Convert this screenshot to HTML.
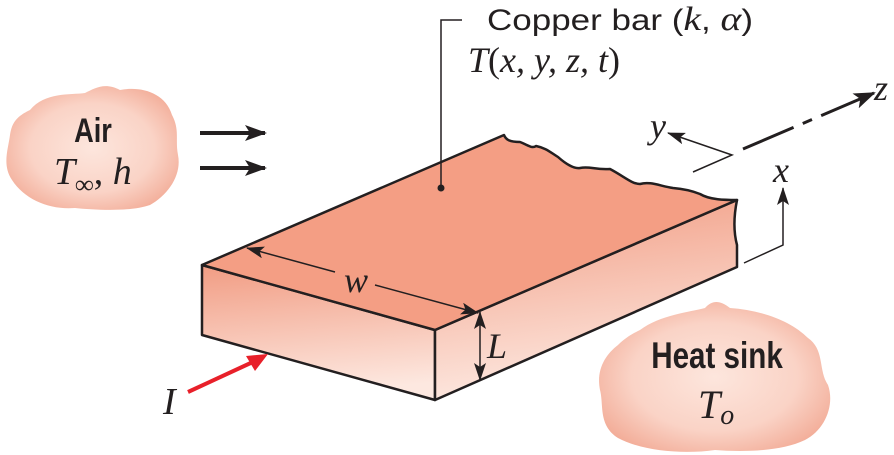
<!DOCTYPE html>
<html><head><meta charset="utf-8"><style>
html,body{margin:0;padding:0;background:#fff}
svg{display:block}
.s{font-family:"Liberation Sans",sans-serif}
.r{font-family:"Liberation Serif",serif;font-style:italic}
</style></head><body>
<svg width="894" height="455" viewBox="0 0 894 455" xmlns="http://www.w3.org/2000/svg">
<defs>
<linearGradient id="front" x1="0" y1="0" x2="0.15" y2="1">
<stop offset="0" stop-color="#f19c83"/><stop offset="1" stop-color="#fde8e0"/></linearGradient>
<linearGradient id="side" x1="0" y1="0" x2="0.2" y2="1">
<stop offset="0" stop-color="#f19c83"/><stop offset="1" stop-color="#fde8e0"/></linearGradient>
<radialGradient id="cloud" cx="0.5" cy="0.5" r="0.6">
<stop offset="0" stop-color="#fde6dd"/><stop offset="0.6" stop-color="#fad3c6"/><stop offset="1" stop-color="#f2aa95"/></radialGradient>
<marker id="ah" markerWidth="22" markerHeight="16" refX="20" refY="8" orient="auto" markerUnits="userSpaceOnUse"><path d="M0,0 L22,8 L0,16 L5,8z" fill="#231f20"/></marker>
<marker id="as" markerWidth="18" markerHeight="12" refX="17" refY="6" orient="auto" markerUnits="userSpaceOnUse"><path d="M0,0 L18,6 L0,12 L4,6z" fill="#231f20"/></marker>
</defs>

<g>
<path d="M30,110 C45,92 70,95 85,93 C95,88 105,82 120,90 C140,86 165,92 172,115 C180,130 175,140 178,155 C182,175 168,195 150,205 C130,212 95,210 75,208 C50,210 25,200 12,180 C2,165 8,150 10,135 C12,120 20,115 30,110Z" fill="url(#cloud)"/>
<text x="93" y="142" class="s" font-weight="bold" font-size="34" text-anchor="middle" fill="#231f20" transform="translate(93 0) scale(0.8 1) translate(-93 0)">Air</text>
<text x="54" y="184" class="r" font-size="38" fill="#231f20">T<tspan font-size="26" dy="9">∞</tspan><tspan dy="-9" font-style="normal">,</tspan> h</text>
</g>
<g stroke="#231f20" stroke-width="4">
<line x1="200" y1="133" x2="265" y2="133" marker-end="url(#ah)"/>
<line x1="200" y1="168" x2="265" y2="168" marker-end="url(#ah)"/>
</g>

<g>
<path d="M640,330 C660,315 690,312 705,308 C712,300 720,300 730,308 C760,310 790,320 808,338 C825,350 818,370 828,385 C835,405 825,430 805,440 C780,452 740,452 715,450 C680,455 640,450 618,438 C598,425 604,405 600,390 C596,370 605,355 618,345 C625,338 632,334 640,330Z" fill="url(#cloud)"/>
<text x="717" y="368" class="s" font-weight="bold" font-size="37" text-anchor="middle" fill="#231f20" transform="translate(717 0) scale(0.8 1) translate(-717 0)">Heat sink</text>
<text x="698" y="418" class="r" font-size="40" fill="#231f20">T<tspan font-size="28" dy="6">o</tspan></text>
</g>

<g stroke="#231f20" stroke-width="2.5" stroke-linejoin="round">
<path d="M202,265 L435,330 L435,400 L202,335Z" fill="url(#front)"/>
<path d="M435,330 L737,200 C734,215 733,230 737,245 L737,267 L435,400Z" fill="url(#side)"/>
<path d="M202,265 L504,135 C506,140 510,142 520,142 C528,145 532,149 536,146 C546,148 550,152 558,157 C567,165 575,169 580,168 C590,166 595,170 610,169 C625,177 632,184 640,184 C650,181 660,186 673,188 C685,189 695,192 700,194 C710,200 725,200 737,200 L435,330Z" fill="#f49e84"/>
</g>

<circle cx="441" cy="188" r="3.5" fill="#231f20"/>
<polyline points="441,188 441,20 462,20" fill="none" stroke="#231f20" stroke-width="1.5"/>
<text x="487" y="30" class="s" font-size="30" fill="#231f20" textLength="266" lengthAdjust="spacingAndGlyphs">Copper bar (<tspan font-family="Liberation Serif" font-style="italic" font-size="34">k</tspan>, <tspan font-family="Liberation Serif" font-style="italic" font-size="34">α</tspan>)</text>
<text x="468" y="72" class="r" font-size="36" fill="#231f20">T<tspan font-style="normal">(</tspan>x, y, z, t<tspan font-style="normal">)</tspan></text>

<g stroke="#231f20" stroke-width="1.5">
<line x1="335" y1="272" x2="247" y2="248" marker-end="url(#as)"/>
<line x1="375" y1="285" x2="478" y2="313" marker-end="url(#as)"/>
</g>
<text x="344" y="292" class="r" font-size="36" fill="#231f20">w</text>
<g stroke="#231f20" stroke-width="1.5">
<line x1="480" y1="345" x2="480" y2="312" marker-end="url(#as)"/>
<line x1="480" y1="345" x2="480" y2="380" marker-end="url(#as)"/>
</g>
<text x="487" y="358" class="r" font-size="36" fill="#231f20">L</text>

<line x1="188" y1="392" x2="255" y2="361" stroke="#e8202a" stroke-width="4"/>
<path d="M268,354 L246,356 L255,371Z" fill="#e8202a"/>
<text x="163" y="414" class="r" font-size="38" fill="#231f20">I</text>

<g stroke="#231f20" stroke-width="1.5" fill="none">
<polyline points="693,172 732,155 668,133" marker-end="url(#as)"/>
<line x1="743" y1="149" x2="874" y2="93" stroke-width="3" stroke-dasharray="55,10,10,10,60" marker-end="url(#ah)"/>
<polyline points="744,263 783,245 783,188" marker-end="url(#as)"/>
</g>
<text x="650" y="138" class="r" font-size="36" fill="#231f20">y</text>
<text x="874" y="100" class="r" font-size="36" fill="#231f20">z</text>
<text x="773" y="182" class="r" font-size="36" fill="#231f20">x</text>
</svg>
</body></html>
